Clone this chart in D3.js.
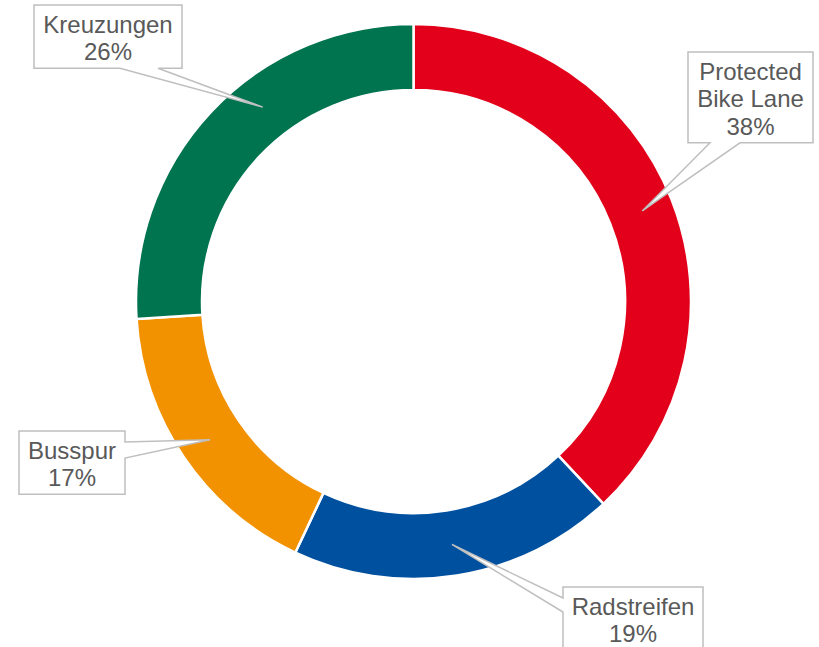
<!DOCTYPE html>
<html>
<head>
<meta charset="utf-8">
<script src="https://cdn.jsdelivr.net/npm/d3@7"></script>
<style>
  body { margin: 0; background: #fff; }
  svg { display: block; }
</style>
</head>
<body>
<svg id="chart"></svg>
<script>
// slices, clockwise from 12 o'clock
const categories = ["Protected Bike Lane", "Radstreifen", "Busspur", "Kreuzungen"];
const shares = [38, 19, 17, 26];
const labelLines = [["Protected", "Bike Lane"], ["Radstreifen"], ["Busspur"], ["Kreuzungen"]];
const colors = ["#e2001a", "#0050a0", "#f39200", "#00734f"];

// callout boxes (layout only): box left/top/width, side where the pointer leaves, tip angle shift
const callouts = [
    {x: 688, y: 52, w: 125, side: "bottom", base: [710, 740], shift: 0},
    {x: 563, y: 587, w: 140, side: "left", base: [598, 612], shift: 0},
    {x: 19, y: 431, w: 106, side: "right", base: [442, 458], shift: 0},
    {x: 34, y: 5, w: 148, side: "bottom", base: [120, 158], shift: 9}
];

const width = 819, height = 647;
const cx = 413.5, cy = 301.5;
const outerR = 277.5, innerR = 211.5;
const lineH = 27.6, fontSize = 24;

const svg = d3.select("#chart").attr("width", width).attr("height", height);

const data = categories.map((c, i) => ({name: c, value: shares[i], lines: labelLines[i], color: colors[i], co: callouts[i]}));

const pie = d3.pie().value(d => d.value).sort(null);
const arc = d3.arc().innerRadius(innerR).outerRadius(outerR);
const arcs = pie(data);

const chart = svg.append("g").attr("transform", `translate(${cx},${cy})`);

chart.selectAll("path")
    .data(arcs)
    .join("path")
    .attr("d", arc)
    .attr("fill", d => d.data.color)
    .attr("stroke", "#fff")
    .attr("stroke-width", 2.5)
    .attr("stroke-linejoin", "round");

// callout labels
const tipR = 246;
const labels = svg.append("g");
arcs.forEach(a => {
    const co = a.data.co;
    const mid = (a.startAngle + a.endAngle) / 2 + co.shift * Math.PI / 180;
    const tx = cx + tipR * Math.sin(mid);
    const ty = cy - tipR * Math.cos(mid);
    const lines = a.data.lines.concat([a.data.value + "%"]);
    const h = lines.length * lineH + 8;
    const x0 = co.x, y0 = co.y, x1 = co.x + co.w, y1 = co.y + h;

    let p;
    if (co.side === "bottom") {
        p = [[x0, y0], [x1, y0], [x1, y1], [co.base[1], y1], [tx, ty], [co.base[0], y1], [x0, y1]];
    } else if (co.side === "left") {
        p = [[x0, y0], [x1, y0], [x1, y1], [x0, y1], [x0, co.base[1]], [tx, ty], [x0, co.base[0]]];
    } else {
        p = [[x0, y0], [x1, y0], [x1, co.base[0]], [tx, ty], [x1, co.base[1]], [x1, y1], [x0, y1]];
    }
    labels.append("path")
        .attr("d", "M" + p.map(q => q.join(",")).join("L") + "Z")
        .attr("fill", "#fff")
        .attr("stroke", "#bfbfbf")
        .attr("stroke-width", 1.5)
        .attr("stroke-linejoin", "miter");

    const t = labels.append("text")
        .attr("text-anchor", "middle")
        .attr("font-family", "Liberation Sans, Arial, sans-serif")
        .attr("font-size", fontSize)
        .attr("fill", "#595959");
    lines.forEach((l, i) => {
        t.append("tspan")
            .attr("x", (x0 + x1) / 2)
            .attr("y", y0 + 27.5 + i * lineH)
            .text(l);
    });
});
</script>
</body>
</html>
